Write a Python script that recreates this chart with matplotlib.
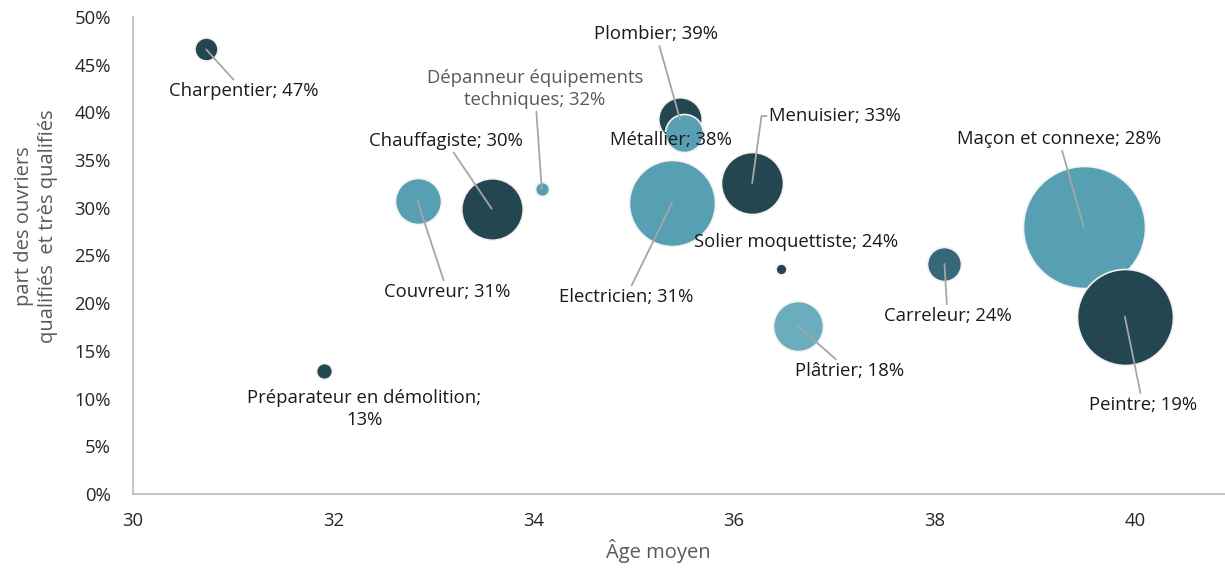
import matplotlib
matplotlib.use("Agg")
import matplotlib.pyplot as plt
from matplotlib.ticker import PercentFormatter, MultipleLocator

plt.rcParams['font.family'] = ['Open Sans', 'DejaVu Sans']

# Métiers du bâtiment : âge moyen, part des ouvriers qualifiés, effectifs (milliers)
metiers = ["Charpentier", "Préparateur en démolition", "Couvreur", "Chauffagiste",
           "Dépanneur équipements techniques", "Plombier", "Métallier", "Electricien",
           "Menuisier", "Solier moquettiste", "Plâtrier", "Carreleur",
           "Maçon et connexe", "Peintre"]
age_moyen = [30.73, 31.91, 32.84, 33.58, 34.08, 35.46, 35.50, 35.38,
             36.18, 36.47, 36.64, 38.10, 39.49, 39.90]
part_qualifies = [0.466, 0.129, 0.307, 0.299, 0.320, 0.393, 0.378, 0.305,
                  0.326, 0.236, 0.176, 0.241, 0.280, 0.186]
effectifs = [7.1, 3.4, 28.4, 50.7, 2.6, 25.3, 19.4, 99.4,
             51.6, 1.6, 33.6, 15.5, 200.0, 123.8]

DARK = "#244651"
LIGHT = "#57A0B4"
couleurs = [DARK, DARK, LIGHT, DARK, LIGHT, DARK, LIGHT, LIGHT,
            DARK, DARK, "#6BADBF", "#376877", LIGHT, DARK]

# label placement: offset from bubble centre in pixels, leader style
label_text = ["Charpentier; 47%", "Préparateur en démolition;\n13%", "Couvreur; 31%",
              "Chauffagiste; 30%", "Dépanneur équipements\ntechniques; 32%",
              "Plombier; 39%", "Métallier; 38%", "Electricien; 31%", "Menuisier; 33%",
              "Solier moquettiste; 24%", "Plâtrier; 18%", "Carreleur; 24%",
              "Maçon et connexe; 28%", "Peintre; 19%"]
offsets = [(38, -42), (40, -38), (30, -91), (-46, 68), (-7, 100), (-24, 85),
           (-13, -7), (-46, -94), (83, 67), (15, 27), (51, -45), (3, -52),
           (-25, 88), (18, -88)]
leader = ["line", None, "line", "line", "line", "line", None, "line",
          "elbow", None, "line", "line", "line", "line"]

W, H, DPI = 1225, 568, 100
fig = plt.figure(figsize=(W / DPI, H / DPI), dpi=DPI)
ax = fig.add_axes([133 / W, (H - 494) / H, (W - 133) / W, (494 - 17) / H])

ax.set_xlim(30, 40.9)
ax.set_ylim(0, 0.5)

# bubble area proportional to effectifs; largest drawn first
s_scale = 38.6
order = sorted(range(len(metiers)), key=lambda i: -effectifs[i])
for z, i in enumerate(order):
    ax.scatter(age_moyen[i], part_qualifies[i], s=effectifs[i] * s_scale,
               color=couleurs[i], edgecolor="#F2F2F2", linewidth=1.2,
               zorder=2 + z * 0.01)

FS = 13.3
px2pt = 72 / DPI
for i in range(len(metiers)):
    dx, dy = offsets[i]
    col = "#595959" if i == 4 else "#1A1A1A"
    kw = dict(xy=(age_moyen[i], part_qualifies[i]),
              xytext=(dx * px2pt, dy * px2pt), textcoords="offset points",
              ha="center", va="center", fontsize=FS, color=col,
              multialignment="center", linespacing=1.3, zorder=5)
    if leader[i] == "line":
        kw["arrowprops"] = dict(arrowstyle="-", color="#A6A6A6", lw=1.3,
                                shrinkA=0, shrinkB=0)
    elif leader[i] == "elbow":
        kw["arrowprops"] = dict(arrowstyle="-", color="#A6A6A6", lw=1.3,
                                shrinkA=0, shrinkB=0, relpos=(0, 0.5),
                                connectionstyle="angle,angleA=0,angleB=82,rad=0")
    ax.annotate(label_text[i], **kw)

ax.xaxis.set_major_locator(MultipleLocator(2))
ax.yaxis.set_major_locator(MultipleLocator(0.05))
ax.yaxis.set_major_formatter(PercentFormatter(1.0, decimals=0))
ax.tick_params(length=0, labelsize=FS, labelcolor="#262626")
ax.tick_params(axis="y", pad=16)
ax.tick_params(axis="x", pad=13)

for side in ("top", "right"):
    ax.spines[side].set_visible(False)
for side in ("left", "bottom"):
    ax.spines[side].set_color("#BFBFBF")
    ax.spines[side].set_linewidth(1.3)

fig.text(658 / W, 1 - 551 / H, "Âge moyen", ha="center", va="center",
         fontsize=14.5, color="#595959")
fig.text(36 / W, 1 - 226 / H, "part des ouvriers\nqualifiés  et très qualifiés",
         ha="center", va="center", rotation=90, fontsize=14.5, color="#595959",
         multialignment="center", linespacing=1.25)

fig.savefig("out.png", dpi=DPI)
